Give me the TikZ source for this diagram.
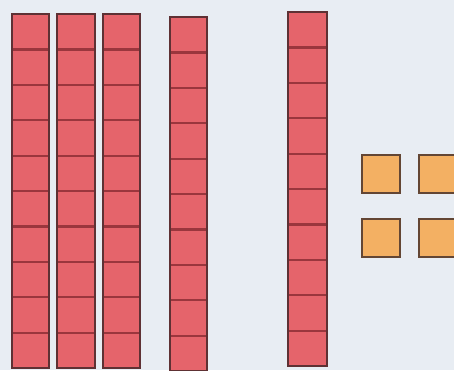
\documentclass[tikz,border=0pt]{standalone}
\definecolor{bg}{HTML}{E8EDF3}
\definecolor{rodfill}{HTML}{E5646B}
\definecolor{rodline}{HTML}{9A363D}
\definecolor{rodedge}{HTML}{5E3134}
\definecolor{unitfill}{HTML}{F3B063}
\definecolor{unitedge}{HTML}{634634}
\tikzset{
  cell/.style={fill=rodfill, draw=rodline, line width=2.2pt},
  rodframe/.style={draw=rodedge, line width=2pt},
  unitbox/.style={fill=unitfill, draw=unitedge, line width=2pt}
}
\newcommand{\tenrod}[4]{% x1, x2, ytop, cell height
  \foreach \k in {0,...,9}{
    \path[cell] (#1,{#3+\k*#4}) rectangle (#2,{#3+(\k+1)*#4});
  }
  \path[rodframe] (#1,#3) rectangle (#2,{#3+10*#4});
}
\begin{document}
\begin{tikzpicture}[x=1pt,y=-1pt]
\path[fill=bg] (0,0) rectangle (454,370);
\useasboundingbox (0,0) rectangle (454,370);
\begin{scope}
\clip (0,0) rectangle (454,370);
\tenrod{12}{49}{14}{35.4}
\tenrod{57}{95}{14}{35.4}
\tenrod{103}{140}{14}{35.4}
\tenrod{170}{207}{17}{35.4}
\tenrod{288}{327}{12}{35.4}
\path[unitbox] (362,155) rectangle (400,193) node[coordinate] (u1) {};
\path[unitbox] (419,155) rectangle (456,193) node[coordinate] (u2) {};
\path[unitbox] (362,219) rectangle (400,257) node[coordinate] (u3) {};
\path[unitbox] (419,219) rectangle (456,257) node[coordinate] (u4) {};
\end{scope}
\end{tikzpicture}
\end{document}
